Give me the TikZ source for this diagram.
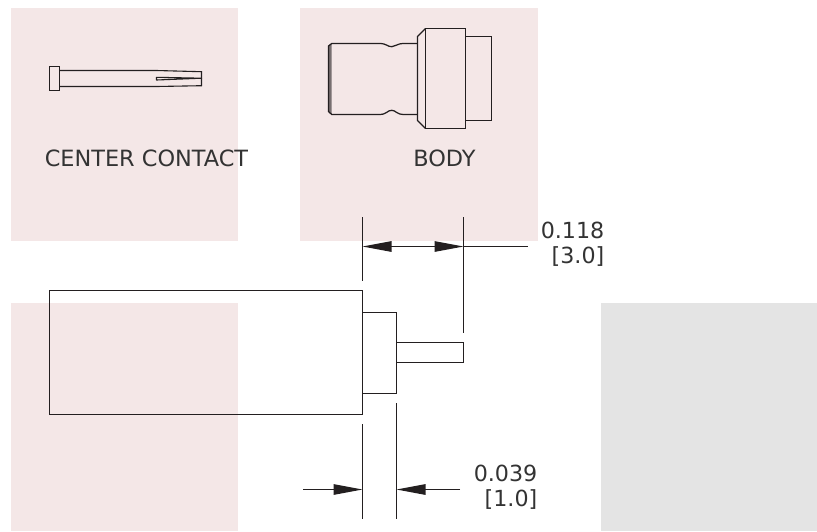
\documentclass[tikz,border=0pt]{standalone}
\usepackage{fontspec}
\setmainfont{DejaVu Sans}
\usetikzlibrary{arrows.meta}
\definecolor{pinkbg}{HTML}{F4E7E7}
\definecolor{graybg}{HTML}{E4E4E4}
\definecolor{ink}{HTML}{231F20}
\definecolor{txt}{HTML}{333333}
\tikzset{
  pinkbox/.style={fill=pinkbg,draw=none},
  graybox/.style={fill=graybg,draw=none},
  part/.style={draw=ink,line width=1.25pt,line join=miter},
  thinpart/.style={draw=ink,line width=1.1pt},
  dimline/.style={draw=ink,line width=1.2pt},
  dimarrow/.style={draw=ink,line width=1.2pt,-{Triangle[length=29pt,width=10.5pt,fill=ink]}},
  lbl/.style={inner sep=0pt,text=txt,font=\fontsize{22.4pt}{24pt}\selectfont},
  vallbl/.style={inner sep=0pt,text=txt,font=\fontsize{22.2pt}{24pt}\selectfont,anchor=east},
}
\begin{document}
\begin{tikzpicture}[x=1pt,y=-1pt]
\useasboundingbox (0,0) rectangle (817,531);
% backgrounds
\path[pinkbox] (11,8) rectangle (238,241);
\path[pinkbox] (300,8) rectangle (538,241);
\path[pinkbox] (11,303) rectangle (238,531);
\path[graybox] (601,303) rectangle (817,531);
% center contact
\draw[thinpart] (49.5,66.5) rectangle (59.5,90.5);
\draw[thinpart] (59.5,70.5) -- (156.5,70.5) -- (201.5,71.7) -- (201.5,85.7) -- (156.5,86.5) -- (59.5,86.5);
\draw[thinpart,line join=round] (201.5,78.2) -- (156.5,77.3) -- (156.5,80) -- cycle;
% body
\path[fill=ink!60!pinkbg] (331.7,43.5) -- (328.5,46) -- (328.5,111.5) -- (331.7,114.5) -- cycle;
\draw[part] (417.5,43.5) -- (404.3,43.5) .. controls (396,43.5) and (396,46.7) .. (391.8,46.7)
  .. controls (387,46.7) and (387,43.5) .. (379.3,43.5) -- (331.7,43.5) -- (328.5,46) -- (328.5,111.5) -- (331.7,114.5)
  -- (379.3,114.5) .. controls (387,114.5) and (387,110.3) .. (391.8,110.3)
  .. controls (396,110.3) and (396,114.5) .. (404.3,114.5) -- (417.5,114.5);
\draw[part] (425.5,28.5) -- (417.5,36.5) -- (417.5,120.5) -- (425.5,128.5);
\draw[part] (425.5,28.5) rectangle (465.5,128.5);
\draw[part] (465.5,36.5) rectangle (491.5,120.5);
% assembled part
\draw[part] (49.5,290.5) rectangle (362.5,414.5);
\draw[part] (362.5,312.5) rectangle (396.5,393.5);
\draw[part] (396.5,342.5) rectangle (463.5,362.5);
% dimension 0.118
\coordinate (a1) at (362.5,217);
\coordinate (a2) at (362.5,281);
\coordinate (b1) at (463.5,217);
\coordinate (b2) at (463.5,333);
\coordinate (la) at (362.5,246.5);
\coordinate (lb) at (463.5,246.5);
\coordinate (lc) at (528,246.5);
\draw[dimline] (a1) -- (a2);
\draw[dimline] (b1) -- (b2);
\draw[dimline] (lb) -- (lc);
\draw[dimarrow] (413,246.5) -- (la);
\draw[dimarrow] (413,246.5) -- (lb);
% dimension 0.039
\coordinate (c1) at (362.5,424);
\coordinate (c2) at (362.5,518.5);
\coordinate (d1) at (396.5,403);
\coordinate (d2) at (396.5,518.5);
\coordinate (p1) at (303,489.5);
\coordinate (p2) at (362.5,489.5);
\coordinate (q1) at (460,489.5);
\coordinate (q2) at (396.5,489.5);
\draw[dimline] (c1) -- (c2);
\draw[dimline] (d1) -- (d2);
\draw[dimarrow] (p1) -- (p2);
\draw[dimarrow] (q1) -- (q2);
% labels
\node[lbl] (cc) at (146.5,158) {CENTER CONTACT};
\node[lbl] (bd) at (444.5,158) {BODY};
\node[vallbl] (v1) at (604.5,230) {0.118};
\node[vallbl] (v2) at (604.5,257) {[3.0]};
\node[vallbl] (v3) at (537.5,473) {0.039};
\node[vallbl] (v4) at (537.5,500) {[1.0]};
\end{tikzpicture}
\end{document}
